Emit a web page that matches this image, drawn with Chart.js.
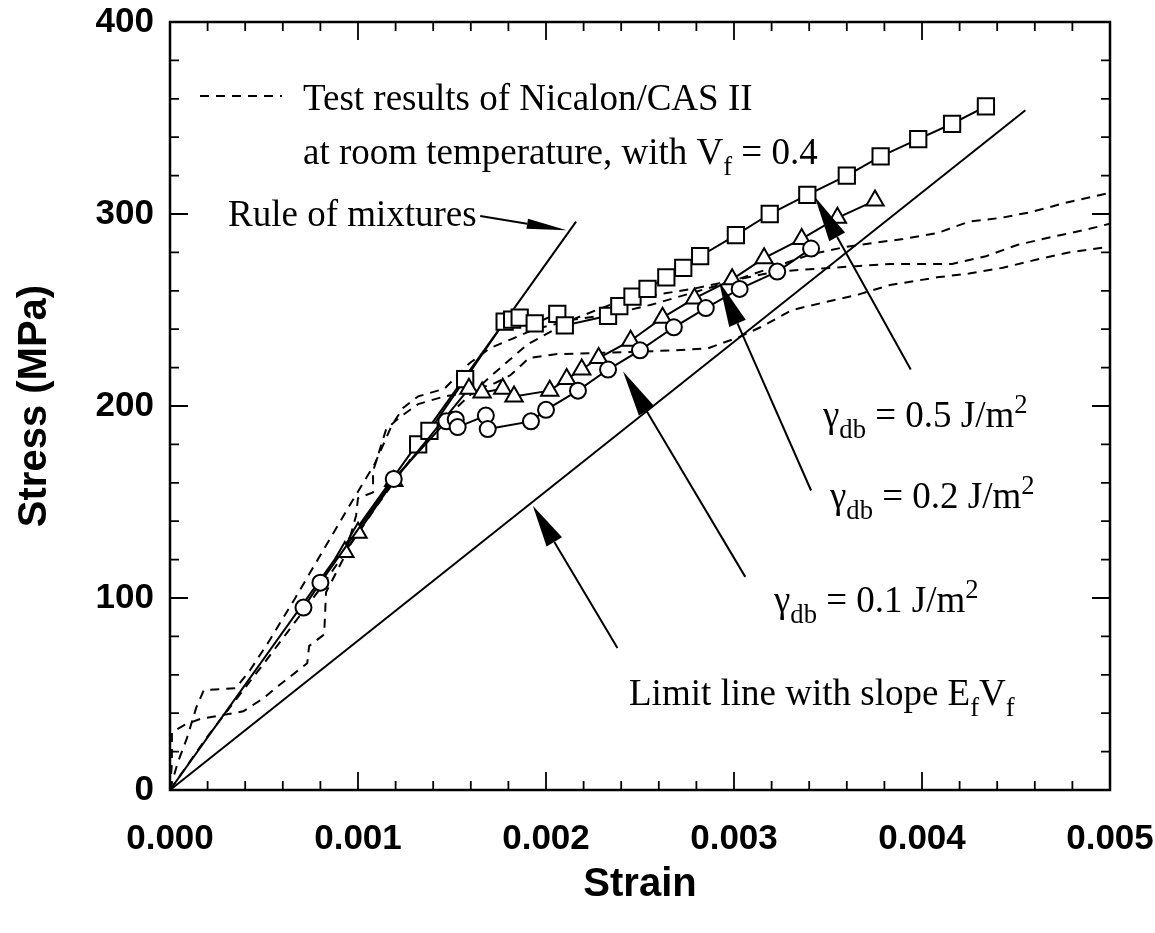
<!DOCTYPE html>
<html lang="en">
<head>
  <meta charset="UTF-8">
  <title>Stress-strain curves</title>
  <script src="https://cdn.jsdelivr.net/npm/chart.js"></script>
  <style>
    html, body { margin: 0; padding: 0; background: #fff; }
    #wrap { width: 1155px; height: 933px; }
  </style>
</head>
<body>
  <div id="wrap"><canvas id="stressChart" width="1155" height="933"></canvas></div>

  <script>
    // ---- axis ticks ----
    const xTicks = [0, 0.001, 0.002, 0.003, 0.004, 0.005];
    const yTicks = [0, 100, 200, 300, 400];

    // ---- model curves (solid lines with markers) ----
    const circStrain = [0.00071, 0.0008, 0.00119, 0.00147, 0.00152, 0.00153, 0.00168, 0.00169, 0.00192, 0.002, 0.00217, 0.00233, 0.0025, 0.00268, 0.00285, 0.00303, 0.00323, 0.00341];
    const circStress = [95, 108, 162, 192, 193, 189, 195, 188, 192, 198, 208, 219, 229, 241, 251, 261, 270, 282];

    const triStrain = [0.00093, 0.001, 0.00119, 0.00159, 0.00166, 0.00177, 0.00183, 0.00202, 0.00211, 0.00219, 0.00228, 0.00245, 0.00262, 0.00279, 0.00299, 0.00316, 0.00336, 0.00355, 0.00375];
    const triStress = [124, 134, 161, 209, 207, 209, 205, 208, 214, 219, 225, 234, 246, 256, 266, 277, 287, 298, 307];

    const sqStrain = [0.00132, 0.00138, 0.00157, 0.00178, 0.00182, 0.00186, 0.00194, 0.00206, 0.0021, 0.00233, 0.00239, 0.00246, 0.00254, 0.00264, 0.00273, 0.00282, 0.00301, 0.00319, 0.00339, 0.0036, 0.00378, 0.00398, 0.00416, 0.00434];
    const sqStress = [180, 187, 214, 244, 245, 246, 243, 248, 242, 247, 252, 257, 261, 267, 272, 278, 289, 300, 310, 320, 330, 339, 347, 356];

    // ---- straight lines ----
    const romStrain = [0, 0.00216];
    const romStress = [0, 296];
    const limStrain = [0, 0.00455];
    const limStress = [0, 354];

    // ---- test results (dashed) ----
    const test1Strain = [0, 0.00004, 0.00009, 0.00014, 0.00018, 0.00035, 0.00043, 0.00053, 0.00066, 0.00081, 0.00096, 0.00109, 0.00118, 0.00124, 0.00132, 0.00146, 0.00159, 0.0017, 0.00182, 0.00194, 0.00215, 0.00236, 0.00257, 0.00278, 0.00299, 0.0032, 0.00341, 0.0036, 0.0039, 0.00408, 0.00425, 0.00442, 0.00458, 0.00477, 0.005];
    const test1Stress = [0, 14, 27, 43, 52, 53, 63, 78, 99, 124, 149, 170, 190, 199, 205, 209, 222, 230, 235, 240, 245, 248, 253, 259, 265, 272, 279, 283, 287, 290, 296, 298, 301, 306, 311];

    const test2Strain = [0, 0.00001, 0.00001, 0.00008, 0.00016, 0.00028, 0.00039, 0.0005, 0.00056, 0.00073, 0.00074, 0.00082, 0.00083, 0.00093, 0.00099, 0.001, 0.00108, 0.00108, 0.00115, 0.00122, 0.00132, 0.00146, 0.00158, 0.00173, 0.00181, 0.00191, 0.00205, 0.00242, 0.00268, 0.00286, 0.00303, 0.00314, 0.00331, 0.00348, 0.00366, 0.00383, 0.00408, 0.00425, 0.00443, 0.0046, 0.00478, 0.005];
    const test2Stress = [0, 14, 30, 34, 37, 39, 41, 48, 53, 66, 75, 81, 103, 122, 143, 152, 155, 166, 188, 194, 201, 205, 207, 212, 216, 225, 227, 228, 229, 230, 236, 241, 250, 254, 258, 263, 267, 269, 272, 276, 280, 283];

    const test3Strain = [0, 0.0002, 0.0005, 0.0008, 0.0011, 0.0013, 0.0015, 0.0017, 0.0019, 0.00214, 0.0024, 0.00278, 0.00322, 0.00383, 0.00416, 0.00434, 0.00451, 0.00469, 0.00488, 0.005];
    const test3Stress = [0, 28, 66, 105, 148, 175, 197, 215, 232, 245, 255, 261, 270, 274, 274, 278, 284, 288, 292, 295];

    const pts = (xs, ys) => xs.map((v, i) => ({ x: v, y: ys[i] }));

    // arrows: tail -> tip, in data units
    const arrows = [
      { from: [0.00165, 299], to: [0.00211, 291.5], len: 40, half: 5 },
      { from: [0.00394, 219], to: [0.00343, 309], len: 46, half: 9 },
      { from: [0.00341, 156], to: [0.00292, 265], len: 46, half: 9 },
      { from: [0.00306, 111], to: [0.00241, 218], len: 46, half: 9 },
      { from: [0.00238, 74], to: [0.00193, 148], len: 42, half: 9 }
    ];

    // annotation text, canvas pixels (baseline)
    const notes = [
      { x: 303, y: 110, parts: [{ t: 'Test results of Nicalon/CAS II' }] },
      { x: 303, y: 164, parts: [{ t: 'at room temperature, with V' }, { t: 'f', sub: true }, { t: ' = 0.4' }] },
      { x: 228, y: 226, parts: [{ t: 'Rule of mixtures' }] },
      { x: 823, y: 427, parts: [{ t: 'γ' }, { t: 'db', sub: true }, { t: ' = 0.5 J/m' }, { t: '2', sup: true }] },
      { x: 830, y: 508, parts: [{ t: 'γ' }, { t: 'db', sub: true }, { t: ' = 0.2 J/m' }, { t: '2', sup: true }] },
      { x: 774, y: 612, parts: [{ t: 'γ' }, { t: 'db', sub: true }, { t: ' = 0.1 J/m' }, { t: '2', sup: true }] },
      { x: 629, y: 705, parts: [{ t: 'Limit line with slope E' }, { t: 'f', sub: true }, { t: 'V' }, { t: 'f', sub: true }] }
    ];

    function drawRich(ctx, x, y, parts, size) {
      let cx = x;
      for (const p of parts) {
        const s = (p.sub || p.sup) ? size * 0.72 : size;
        ctx.font = s + 'px "Liberation Serif", "Times New Roman", serif';
        const dy = p.sub ? size * 0.3 : (p.sup ? -size * 0.38 : 0);
        ctx.fillText(p.t, cx, y + dy);
        cx += ctx.measureText(p.t).width;
      }
    }

    const decorPlugin = {
      id: 'decor',
      afterDatasetsDraw(chart) {
        const { ctx, chartArea: a, scales: { x, y } } = chart;
        ctx.save();
        ctx.strokeStyle = '#000';
        ctx.fillStyle = '#000';

        // frame
        ctx.lineWidth = 2.5;
        ctx.strokeRect(a.left, a.top, a.right - a.left, a.bottom - a.top);

        // inward ticks on all four sides
        ctx.lineWidth = 1.8;
        ctx.beginPath();
        for (let i = 0; i <= 25; i++) {
          const px = x.getPixelForValue(i * 0.0002);
          const len = i % 5 === 0 ? 18 : 9;
          ctx.moveTo(px, a.bottom); ctx.lineTo(px, a.bottom - len);
          ctx.moveTo(px, a.top); ctx.lineTo(px, a.top + len);
        }
        for (let i = 0; i <= 20; i++) {
          const py = y.getPixelForValue(i * 20);
          const len = i % 5 === 0 ? 18 : 9;
          ctx.moveTo(a.left, py); ctx.lineTo(a.left + len, py);
          ctx.moveTo(a.right, py); ctx.lineTo(a.right - len, py);
        }
        ctx.stroke();

        // arrows
        ctx.lineWidth = 2;
        for (const ar of arrows) {
          const x0 = x.getPixelForValue(ar.from[0]), y0 = y.getPixelForValue(ar.from[1]);
          const x1 = x.getPixelForValue(ar.to[0]), y1 = y.getPixelForValue(ar.to[1]);
          const ang = Math.atan2(y1 - y0, x1 - x0);
          const bx = x1 - ar.len * Math.cos(ang), by = y1 - ar.len * Math.sin(ang);
          ctx.beginPath();
          ctx.moveTo(x0, y0); ctx.lineTo(bx, by);
          ctx.stroke();
          ctx.beginPath();
          ctx.moveTo(x1, y1);
          ctx.lineTo(bx + ar.half * Math.sin(ang), by - ar.half * Math.cos(ang));
          ctx.lineTo(bx - ar.half * Math.sin(ang), by + ar.half * Math.cos(ang));
          ctx.closePath();
          ctx.fill();
        }

        // legend sample for dashed test curves
        ctx.setLineDash([9, 7]);
        ctx.beginPath();
        ctx.moveTo(200, 96); ctx.lineTo(282, 96);
        ctx.stroke();
        ctx.setLineDash([]);

        // text
        ctx.textBaseline = 'alphabetic';
        ctx.textAlign = 'left';
        for (const n of notes) drawRich(ctx, n.x, n.y, n.parts, 37);
        ctx.restore();
      }
    };

    const markerBase = {
      borderColor: '#000',
      borderWidth: 2,
      pointBackgroundColor: '#fff',
      pointBorderColor: '#000',
      pointBorderWidth: 2,
      fill: false,
      tension: 0
    };
    const dashBase = {
      borderColor: '#000',
      borderWidth: 2,
      borderDash: [9, 7],
      pointRadius: 0,
      fill: false,
      tension: 0
    };

    const tickFont = { family: '"Liberation Sans", Arial, sans-serif', size: 35, weight: 'bold' };
    const titleFont = { family: '"Liberation Sans", Arial, sans-serif', size: 40, weight: 'bold' };

    new Chart(document.getElementById('stressChart').getContext('2d'), {
      type: 'line',
      data: {
        datasets: [
          { ...markerBase, label: 'γdb = 0.1', data: pts(circStrain, circStress), pointStyle: 'circle', pointRadius: 8 },
          { ...markerBase, label: 'γdb = 0.2', data: pts(triStrain, triStress), pointStyle: 'triangle', pointRadius: 10 },
          { ...markerBase, label: 'γdb = 0.5', data: pts(sqStrain, sqStress), pointStyle: 'rect', pointRadius: 11.5 },
          { label: 'Rule of mixtures', data: pts(romStrain, romStress), borderColor: '#000', borderWidth: 2, pointRadius: 0 },
          { label: 'Limit line', data: pts(limStrain, limStress), borderColor: '#000', borderWidth: 2, pointRadius: 0 },
          { ...dashBase, label: 'Test 1', data: pts(test1Strain, test1Stress) },
          { ...dashBase, label: 'Test 2', data: pts(test2Strain, test2Stress) },
          { ...dashBase, label: 'Test 3', data: pts(test3Strain, test3Stress) }
        ]
      },
      options: {
        responsive: false,
        animation: false,
        devicePixelRatio: 1,
        layout: { padding: { left: 0, top: 22, right: 45, bottom: 0 } },
        plugins: { legend: { display: false }, tooltip: { enabled: false } },
        scales: {
          x: {
            type: 'linear',
            min: 0, max: 0.005,
            afterBuildTicks: s => { s.ticks = xTicks.map(v => ({ value: v })); },
            afterFit: s => { s.height = 143; s.paddingLeft = 0; s.paddingRight = 0; },
            grid: { display: false, drawTicks: false },
            border: { display: false },
            ticks: {
              color: '#000',
              padding: 28,
              maxRotation: 0,
              autoSkip: false,
              font: tickFont,
              callback: v => v.toFixed(3)
            },
            title: {
              display: true, text: 'Strain', color: '#000',
              padding: { top: 0, bottom: 24 },
              font: titleFont
            }
          },
          y: {
            type: 'linear',
            min: 0, max: 400,
            afterBuildTicks: s => { s.ticks = yTicks.map(v => ({ value: v })); },
            afterFit: s => { s.width = 170; s.paddingTop = 0; s.paddingBottom = 0; },
            grid: { display: false, drawTicks: false },
            border: { display: false },
            ticks: {
              color: '#000',
              padding: 16,
              font: tickFont
            },
            title: {
              display: true, text: 'Stress (MPa)', color: '#000',
              padding: { top: 11, bottom: 0 },
              font: titleFont
            }
          }
        }
      },
      plugins: [decorPlugin]
    });
  </script>
</body>
</html>
